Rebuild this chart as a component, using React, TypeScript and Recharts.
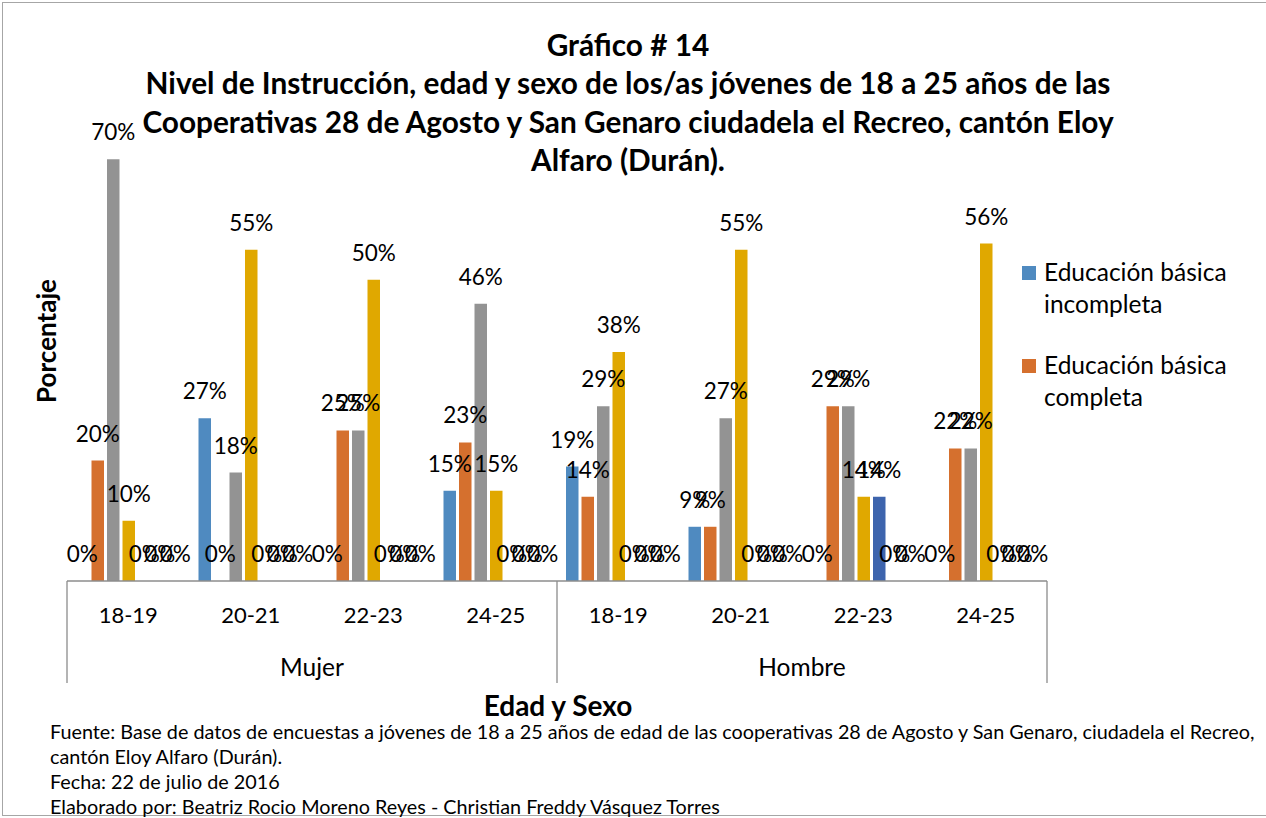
import { BarChart, Bar, XAxis, YAxis, LabelList, Cell } from 'recharts';

// Categorías del eje X (dos niveles: edad dentro de sexo)
const edades = ['18-19', '20-21', '22-23', '24-25', '18-19', '20-21', '22-23', '24-25'];
const sexos = ['Mujer', 'Mujer', 'Mujer', 'Mujer', 'Hombre', 'Hombre', 'Hombre', 'Hombre'];

// Porcentajes por nivel de instrucción
const basicaIncompleta = [0, 27, 0, 15, 19, 9, 0, 0];
const basicaCompleta = [20, 0, 25, 23, 14, 9, 29, 22];
const bachilleratoIncompleto = [70, 18, 25, 46, 29, 27, 29, 22];
const bachilleratoCompleto = [10, 55, 50, 15, 38, 55, 14, 56];
const superiorIncompleta = [0, 0, 0, 0, 0, 0, 14, 0];
const superiorCompleta = [0, 0, 0, 0, 0, 0, 0, 0];
const ninguno = [0, 0, 0, 0, 0, 0, 0, 0];

const series = [
  { key: 'bi', name: 'Educación básica incompleta', values: basicaIncompleta, color: '#4f8ac0' },
  { key: 'bc', name: 'Educación básica completa', values: basicaCompleta, color: '#d5702e' },
  { key: 'bai', name: 'Bachillerato incompleto', values: bachilleratoIncompleto, color: '#939393' },
  { key: 'bac', name: 'Bachillerato completo', values: bachilleratoCompleto, color: '#e0a800' },
  { key: 'si', name: 'Superior incompleta', values: superiorIncompleta, color: '#3d64ad' },
  { key: 'sc', name: 'Superior completa', values: superiorCompleta, color: '#62993e' },
  { key: 'ni', name: 'Ninguno', values: ninguno, color: '#264478' },
];

const data = edades.map((edad, i) => {
  const row: any = { edad, sexo: sexos[i] };
  series.forEach((s) => (row[s.key] = s.values[i]));
  return row;
});

const W = 1266;
const H = 818;
const LEFT = 67;
const RIGHT = 1047;
const BASE = 581;
const TOP = 99;
const AXIS_H = 110;
const band = (RIGHT - LEFT) / edades.length;
const font = 'Lato, "Open Sans", sans-serif';
const axisColor = '#8c8c8c';

const CategoryTick = (props: any) => {
  const { x, y, payload, index } = props;
  const i = index;
  const first = i === 0 || sexos[i - 1] !== sexos[i];
  const last = i === edades.length - 1;
  let groupLabel = null;
  if (first) {
    let n = 0;
    while (i + n < sexos.length && sexos[i + n] === sexos[i]) n++;
    groupLabel = (
      <text x={x - band / 2 + (n * band) / 2} y={y + 87} textAnchor="middle" fontSize={24.5} fill="#000" fontFamily={font}>
        {sexos[i]}
      </text>
    );
  }
  return (
    <g>
      <text x={x} y={y + 34} textAnchor="middle" fontSize={22} fill="#000" fontFamily={font}>
        {payload.value}
      </text>
      {first && <line x1={x - band / 2} x2={x - band / 2} y1={y - 8} y2={y + 94} stroke={axisColor} strokeWidth={1.3} />}
      {last && <line x1={x + band / 2} x2={x + band / 2} y1={y - 8} y2={y + 94} stroke={axisColor} strokeWidth={1.3} />}
      {groupLabel}
    </g>
  );
};

export default function App() {
  return (
    <div style={{ position: 'absolute', left: 0, top: 0, width: W, height: H, background: '#fff', overflow: 'hidden' }}>
      <div style={{ position: 'absolute', left: 2, top: 2, width: W + 10, height: 812, border: '1.5px solid #a6a6a6' }} />
      <div
        style={{
          position: 'absolute', left: 0, width: W - 10, top: 26, textAlign: 'center',
          fontFamily: font, fontWeight: 700, fontSize: 29.8, lineHeight: '38.3px', color: '#000',
        }}
      >
        Gráfico # 14
        <br />
        Nivel de Instrucción, edad y sexo de los/as jóvenes de 18 a 25 años de las
        <br />
        Cooperativas 28 de Agosto y San Genaro ciudadela el Recreo, cantón Eloy
        <br />
        Alfaro (Durán).
      </div>
      <BarChart
        width={W}
        height={H}
        data={data}
        margin={{ top: TOP, right: W - RIGHT, bottom: H - BASE - AXIS_H, left: LEFT }}
        barGap={3}
        barSize={12.5}
        style={{ position: 'absolute', left: 0, top: 0 }}
      >
        <XAxis
          dataKey="edad"
          interval={0}
          height={AXIS_H}
          axisLine={{ stroke: axisColor, strokeWidth: 1.3 }}
          tickLine={false}
          tick={<CategoryTick />}
        />
        <YAxis hide domain={[0, 80]} width={0} />
        {series.map((s) => (
          <Bar key={s.key} dataKey={s.key} name={s.name} fill={s.color} minPointSize={0.1} isAnimationActive={false}>
            {s.values.map((v, i) => (
              <Cell key={i} fill={v === 0 ? 'transparent' : s.color} />
            ))}
            <LabelList
              dataKey={s.key}
              position="top"
              offset={19}
              formatter={(v: any) => `${v}%`}
              style={{ fontSize: 22.5, fill: '#000', fontFamily: font }}
            />
          </Bar>
        ))}
      </BarChart>
      <div style={{ position: 'absolute', left: 1022, top: 256, fontFamily: font, fontSize: 24.5, color: '#000', lineHeight: '32px' }}>
        {series.slice(0, 2).map((s) => (
          <div key={s.key} style={{ display: 'flex', alignItems: 'flex-start', marginBottom: 29 }}>
            <span style={{ width: 14, height: 14, background: s.color, marginTop: 10, marginRight: 8, flex: 'none' }} />
            <span style={{ width: 215 }}>{s.name}</span>
          </div>
        ))}
      </div>
      <div
        style={{
          position: 'absolute', left: 46, top: 341, transform: 'translate(-50%, -50%) rotate(-90deg)',
          fontFamily: font, fontWeight: 700, fontSize: 26, color: '#000', whiteSpace: 'nowrap',
        }}
      >
        Porcentaje
      </div>
      <div
        style={{
          position: 'absolute', left: 408, width: 300, top: 688, textAlign: 'center',
          fontFamily: font, fontWeight: 700, fontSize: 28, lineHeight: '34px', color: '#000',
        }}
      >
        Edad y Sexo
      </div>
      <div
        style={{
          position: 'absolute', left: 50, top: 718.5, fontFamily: font, fontSize: 19.8,
          lineHeight: '25px', color: '#000', width: 1240, whiteSpace: 'nowrap',
        }}
      >
        Fuente: Base de datos de encuestas a jóvenes de 18 a 25 años de edad de las cooperativas 28 de Agosto y San Genaro, ciudadela el Recreo,
        <br />
        cantón Eloy Alfaro (Durán).
        <br />
        Fecha: 22 de julio de 2016
        <br />
        Elaborado por: Beatriz Rocio Moreno Reyes - Christian Freddy Vásquez Torres
      </div>
    </div>
  );
}
